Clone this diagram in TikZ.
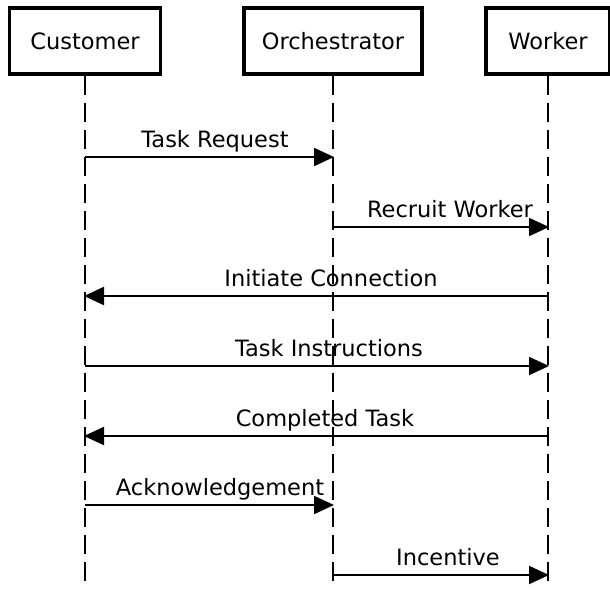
\documentclass[tikz,border=0pt]{standalone}
\usepackage{fontspec}
\setmainfont{DejaVu Sans}
\usetikzlibrary{arrows.meta}

\tikzset{
  actor/.style={draw, line width=3.5pt, minimum height=66pt, inner sep=0pt,
                font=\fontsize{22.5}{27}\selectfont},
  lifeline/.style={line width=2pt, dash pattern=on 19pt off 8pt},
  msg/.style={line width=2pt, -{Triangle[length=20pt,width=18pt]}, shorten >=-1pt},
  msglabel/.style={anchor=base, inner sep=0pt, font=\fontsize{22.5}{27}\selectfont}
}

\begin{document}
\begin{tikzpicture}[x=1pt,y=-1pt]
  \useasboundingbox (0,0) rectangle (610,589);

  % participants
  \node[actor, minimum width=151pt] (cust) at (85,41) {Customer};
  \node[actor, minimum width=178pt] (orch) at (333,41) {Orchestrator};
  \node[actor, minimum width=124pt] (work) at (548,41) {Worker};

  % lifeline ends
  \coordinate (custEnd) at (85,586);
  \coordinate (orchEnd) at (333,586);
  \coordinate (workEnd) at (548,586);
  \draw[lifeline] (cust.south) -- (custEnd);
  \draw[lifeline] (orch.south) -- (orchEnd);
  \draw[lifeline] (work.south) -- (workEnd);

  % message anchor points on the lifelines
  \coordinate (c1) at (85,157);  \coordinate (o1) at (333,157);
  \coordinate (o2) at (333,227); \coordinate (w2) at (548,227);
  \coordinate (w3) at (548,296); \coordinate (c3) at (85,296);
  \coordinate (c4) at (85,366);  \coordinate (w4) at (548,366);
  \coordinate (w5) at (548,436); \coordinate (c5) at (85,436);
  \coordinate (c6) at (85,505);  \coordinate (o6) at (333,505);
  \coordinate (o7) at (333,575); \coordinate (w7) at (548,575);

  % messages
  \draw[msg] (c1) -- (o1);
  \node[msglabel] (l1) at (215,147) {Task Request};
  \draw[msg] (o2) -- (w2);
  \node[msglabel] (l2) at (450,217) {Recruit Worker};
  \draw[msg] (w3) -- (c3);
  \node[msglabel] (l3) at (331,286) {Initiate Connection};
  \draw[msg] (c4) -- (w4);
  \node[msglabel] (l4) at (329,356) {Task Instructions};
  \draw[msg] (w5) -- (c5);
  \node[msglabel] (l5) at (325,426) {Completed Task};
  \draw[msg] (c6) -- (o6);
  \node[msglabel] (l6) at (220,495) {Acknowledgement};
  \draw[msg] (o7) -- (w7);
  \node[msglabel] (l7) at (448,565) {Incentive};
\end{tikzpicture}
\end{document}
